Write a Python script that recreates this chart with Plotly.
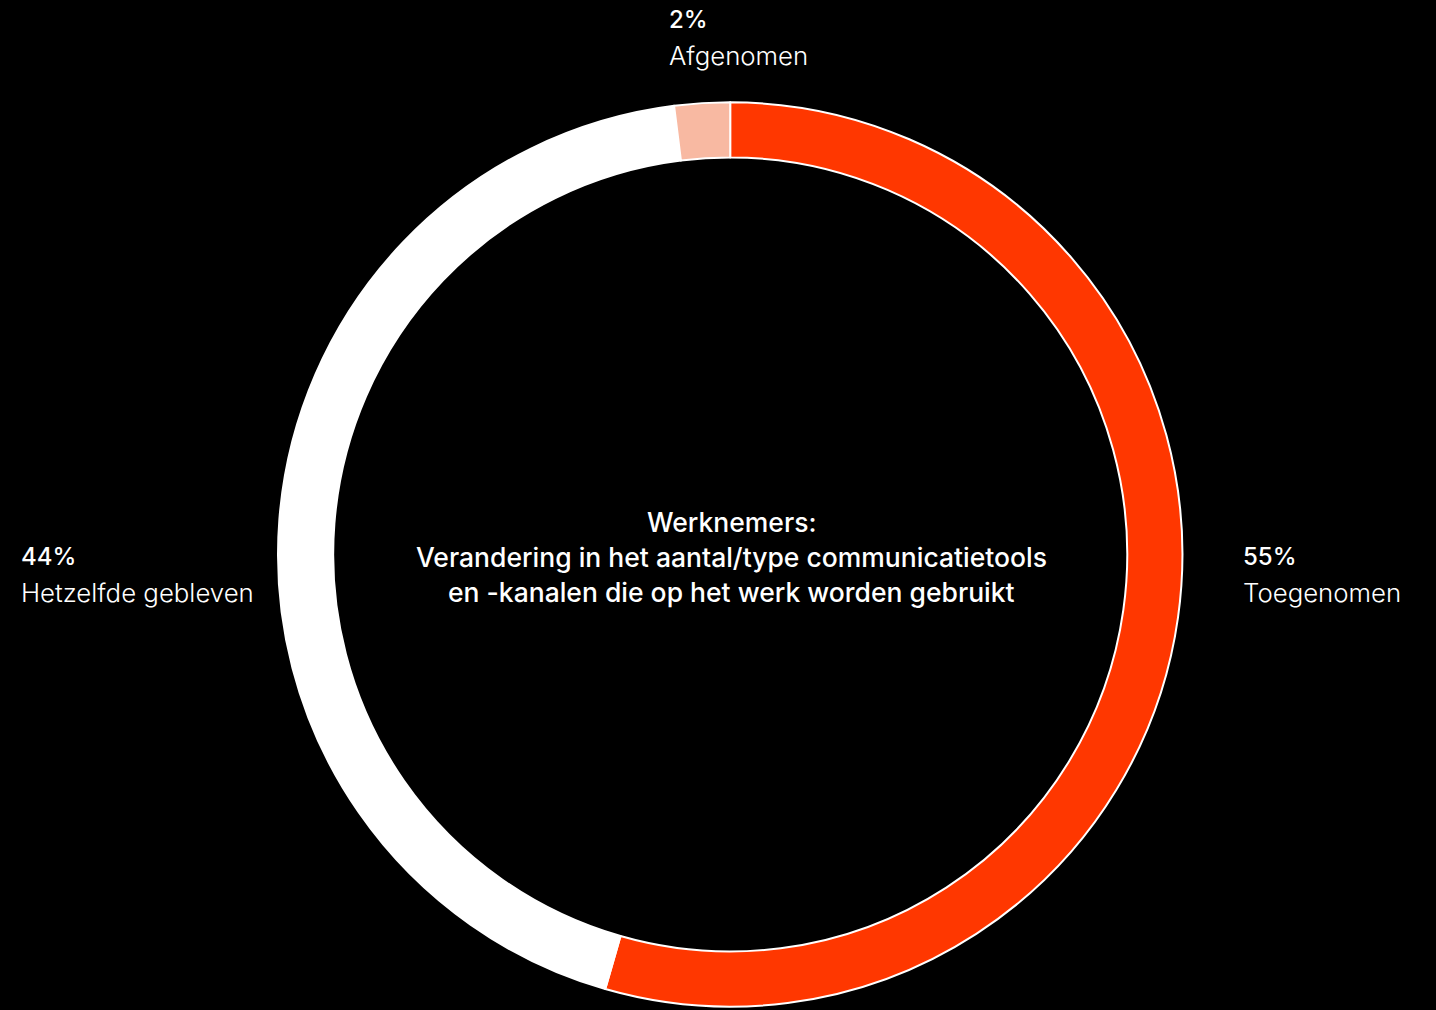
import plotly.graph_objects as go

# Survey results: change in number/type of communication tools at work
categories = ["Toegenomen", "Hetzelfde gebleven", "Afgenomen"]
values = [55, 44, 2]
colors = ["#FF3700", "#FFFFFF", "#F8B9A2"]

center_title = ["Werknemers:",
                "Verandering in het aantal/type communicatietools",
                "en -kanalen die op het werk worden gebruikt"]

W, H = 1436, 1010
FONT = "Inter"

fig = go.Figure(go.Pie(
    labels=categories,
    values=values,
    marker=dict(colors=colors, line=dict(color="#FFFFFF", width=2)),
    hole=0.878,
    sort=False,
    direction="clockwise",
    rotation=0,
    textinfo="none",
    hoverinfo="label+percent",
    showlegend=False,
    domain=dict(x=[0.1936, 0.8234], y=[0.003, 0.899]),
))

# outside labels: (x, y of percent line)
label_pos = {
    "Toegenomen": (1241, 556),
    "Hetzelfde gebleven": (19, 556),
    "Afgenomen": (667, 19),
}
pct = {c: v for c, v in zip(categories, values)}

annotations = []
for cat in categories:
    x, y = label_pos[cat]
    annotations.append(dict(
        x=x / W, y=1 - y / H, xref="paper", yref="paper",
        xanchor="left", yanchor="middle", showarrow=False,
        text=f"{pct[cat]}%",
        font=dict(family=FONT, size=24, color="#FFFFFF", weight=500),
    ))
    annotations.append(dict(
        x=x / W, y=1 - (y + 36) / H, xref="paper", yref="paper",
        xanchor="left", yanchor="middle", showarrow=False,
        text=cat,
        font=dict(family=FONT, size=25.8, color="#FFFFFF", weight=300),
    ))

for i, line in enumerate(center_title):
    annotations.append(dict(
        x=731 / W, y=1 - (522 + 35 * i) / H, xref="paper", yref="paper",
        xanchor="center", yanchor="middle", showarrow=False,
        text=line,
        font=dict(family=FONT, size=26.5, color="#FFFFFF", weight=500),
    ))

fig.update_layout(
    width=W, height=H,
    margin=dict(l=0, r=0, t=0, b=0),
    paper_bgcolor="#000000",
    plot_bgcolor="#000000",
    annotations=annotations,
)

fig.write_html("out.html")
